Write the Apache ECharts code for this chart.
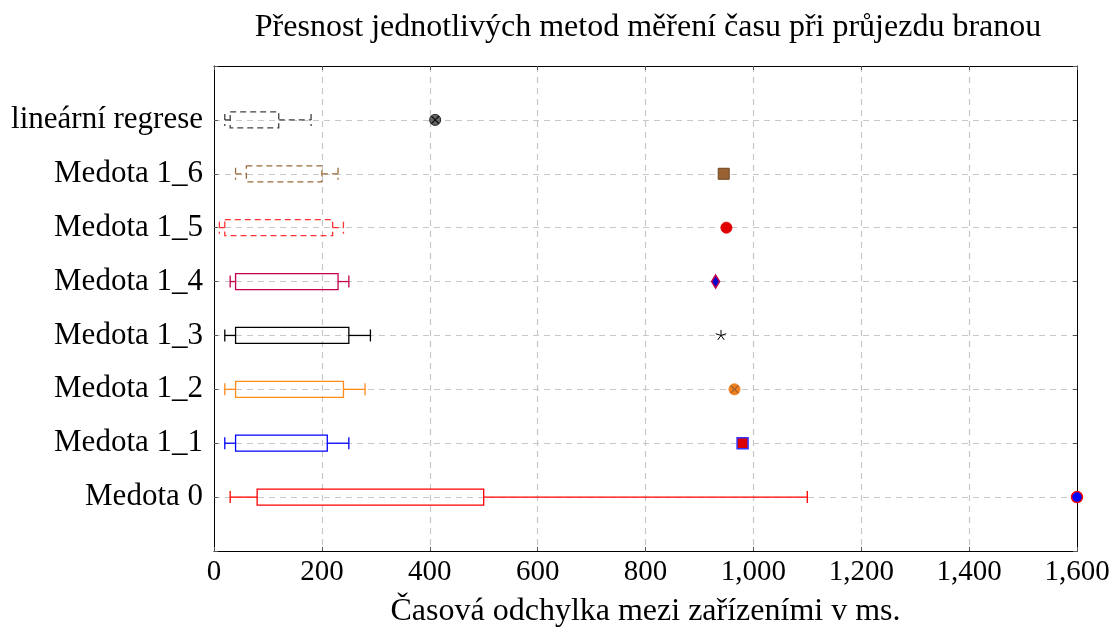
<!DOCTYPE html>
<html>
<head>
<meta charset="utf-8">
<script src="https://cdn.jsdelivr.net/npm/echarts@6/dist/echarts.min.js"></script>
<style>
  html, body { margin: 0; padding: 0; background: #fff; }
  #chart { width: 1113px; height: 630px; }
</style>
</head>
<body>
<div id="chart"></div>
<script>
// data (x in ms)
var categories = ["Medota 0", "Medota 1_1", "Medota 1_2", "Medota 1_3", "Medota 1_4", "Medota 1_5", "Medota 1_6", "lineární regrese"];
var whiskerLow = [30, 20, 20, 20, 30, 10, 40, 20];
var boxLow = [80, 40, 40, 40, 40, 20, 60, 30];
var boxHigh = [500, 210, 240, 250, 230, 220, 200, 120];
var whiskerHigh = [1100, 250, 280, 290, 250, 240, 230, 180];
var outliers = [1600, 980, 965, 940, 930, 950, 945, 410];
var xTicks = [0, 200, 400, 600, 800, 1000, 1200, 1400, 1600];

var FONT = "Liberation Serif";
var boxColors = ["#ff0000", "#0000ff", "#ff8c1a", "#000000", "#c4004e", "#ff3333", "#9a6a3a", "#404040"];
var boxDashed = [false, false, false, false, false, true, true, true];

var chart = echarts.init(document.getElementById("chart"));

var boxData = categories.map(function (c, i) {
  return [i + 1, whiskerLow[i], boxLow[i], boxHigh[i], whiskerHigh[i]];
});
var outlierData = categories.map(function (c, i) {
  return [i + 1, outliers[i]];
});

function renderBox(params, api) {
  var y = api.value(0);
  var a = api.coord([api.value(1), y]);
  var b = api.coord([api.value(2), y]);
  var c = api.coord([api.value(3), y]);
  var d = api.coord([api.value(4), y]);
  var i = params.dataIndex;
  var half = 8, cap = 6;
  var style = {
    stroke: boxColors[i],
    fill: null,
    lineWidth: 1.3,
    lineDash: boxDashed[i] ? [6, 4] : null
  };
  return {
    type: "group",
    children: [
      { type: "rect", shape: { x: b[0], y: b[1] - half, width: c[0] - b[0], height: half * 2 }, style: style },
      { type: "line", shape: { x1: a[0], y1: a[1], x2: b[0], y2: b[1] }, style: style },
      { type: "line", shape: { x1: a[0], y1: a[1] - cap, x2: a[0], y2: a[1] + cap }, style: style },
      { type: "line", shape: { x1: c[0], y1: c[1], x2: d[0], y2: d[1] }, style: style },
      { type: "line", shape: { x1: d[0], y1: d[1] - cap, x2: d[0], y2: d[1] + cap }, style: style }
    ]
  };
}

function crossLines(p, r, color) {
  var k = r * 0.7;
  return [
    { type: "line", shape: { x1: p[0] - k, y1: p[1] - k, x2: p[0] + k, y2: p[1] + k }, style: { stroke: color, lineWidth: 1.2 } },
    { type: "line", shape: { x1: p[0] - k, y1: p[1] + k, x2: p[0] + k, y2: p[1] - k }, style: { stroke: color, lineWidth: 1.2 } }
  ];
}

function renderOutlier(params, api) {
  var p = api.coord([api.value(1), api.value(0)]);
  var i = params.dataIndex;
  var x = p[0], y = p[1];
  var kids = [];
  if (i === 0) {
    kids.push({ type: "circle", shape: { cx: x, cy: y, r: 5.5 }, style: { fill: "#0000ff", stroke: "#ff0000", lineWidth: 1.5 } });
  } else if (i === 1) {
    kids.push({ type: "rect", shape: { x: x - 5.5, y: y - 5.5, width: 11, height: 11 }, style: { fill: "#dd0000", stroke: "#3333ff", lineWidth: 1.5 } });
  } else if (i === 2) {
    kids.push({ type: "circle", shape: { cx: x, cy: y, r: 5.5 }, style: { fill: "#f08020", stroke: "#f08020", lineWidth: 1 } });
    kids = kids.concat(crossLines(p, 5.5, "#a06030"));
  } else if (i === 3) {
    for (var k = 0; k < 5; k++) {
      var ang = -Math.PI / 2 + k * 2 * Math.PI / 5;
      kids.push({ type: "line", shape: { x1: x, y1: y, x2: x + 5.5 * Math.cos(ang), y2: y + 5.5 * Math.sin(ang) }, style: { stroke: "#000", lineWidth: 1 } });
    }
  } else if (i === 4) {
    kids.push({ type: "polygon", shape: { points: [[x, y - 6.5], [x + 4, y], [x, y + 6.5], [x - 4, y]] }, style: { fill: "#0000cc", stroke: "#c4004e", lineWidth: 1.5 } });
  } else if (i === 5) {
    kids.push({ type: "circle", shape: { cx: x, cy: y, r: 5.5 }, style: { fill: "#e00000", stroke: "#e00000", lineWidth: 1 } });
  } else if (i === 6) {
    kids.push({ type: "rect", shape: { x: x - 5.5, y: y - 5.5, width: 11, height: 11 }, style: { fill: "#9a6233", stroke: "#6b4423", lineWidth: 1 } });
  } else {
    kids.push({ type: "circle", shape: { cx: x, cy: y, r: 5.5 }, style: { fill: "#666666", stroke: "#222222", lineWidth: 1 } });
    kids = kids.concat(crossLines(p, 5.5, "#111111"));
  }
  return { type: "group", children: kids };
}

var gridLine = { show: true, showMinLine: false, showMaxLine: false, lineStyle: { color: "#c8c8c8", type: [6, 5], width: 1.2 } };
var tickStyle = { show: true, inside: true, length: 4, lineStyle: { color: "#555", width: 1 } };
var frameLine = { show: true, onZero: false, lineStyle: { color: "#000", width: 1 } };

var option = {
  animation: false,
  title: {
    text: "Přesnost jednotlivých metod měření času při průjezdu branou",
    left: 643,
    textAlign: "center",
    top: 7,
    textStyle: { fontFamily: FONT, fontSize: 32, fontWeight: "normal", color: "#000" }
  },
  grid: {
    left: 214, top: 66, right: 36, bottom: 79,
    outerBoundsMode: "none",
    containLabel: false
  },
  xAxis: [
    {
      type: "value", min: 0, max: 1600, interval: 200, position: "bottom",
      name: "Časová odchylka mezi zařízeními v ms.",
      nameLocation: "middle", nameGap: 45,
      nameTextStyle: { fontFamily: FONT, fontSize: 32, color: "#000" },
      axisLine: frameLine,
      axisTick: tickStyle,
      splitLine: gridLine,
      axisLabel: {
        fontFamily: FONT, fontSize: 29, color: "#000", margin: 7,
        formatter: function (v) { return v.toLocaleString("en-US"); }
      }
    },
    {
      type: "value", min: 0, max: 1600, interval: 200, position: "top",
      axisLine: frameLine, axisTick: tickStyle, axisLabel: { show: false }, splitLine: { show: false }
    }
  ],
  yAxis: [
    {
      type: "value", min: 0, max: 9, interval: 1, position: "left",
      axisLine: frameLine,
      axisTick: tickStyle,
      splitLine: gridLine,
      axisLabel: {
        fontFamily: FONT, fontSize: 31, color: "#000", margin: 11,
        formatter: function (v) { return (v >= 1 && v <= categories.length) ? categories[v - 1] : ""; }
      }
    },
    {
      type: "value", min: 0, max: 9, interval: 1, position: "right",
      axisLine: frameLine, axisTick: tickStyle, axisLabel: { show: false }, splitLine: { show: false }
    }
  ],
  series: [
    {
      type: "custom",
      renderItem: renderBox,
      encode: { x: [1, 2, 3, 4], y: 0 },
      data: boxData,
      z: 3
    },
    {
      type: "custom",
      renderItem: renderOutlier,
      encode: { x: 1, y: 0 },
      data: outlierData,
      clip: false,
      z: 4
    }
  ]
};

chart.setOption(option);
</script>
</body>
</html>
